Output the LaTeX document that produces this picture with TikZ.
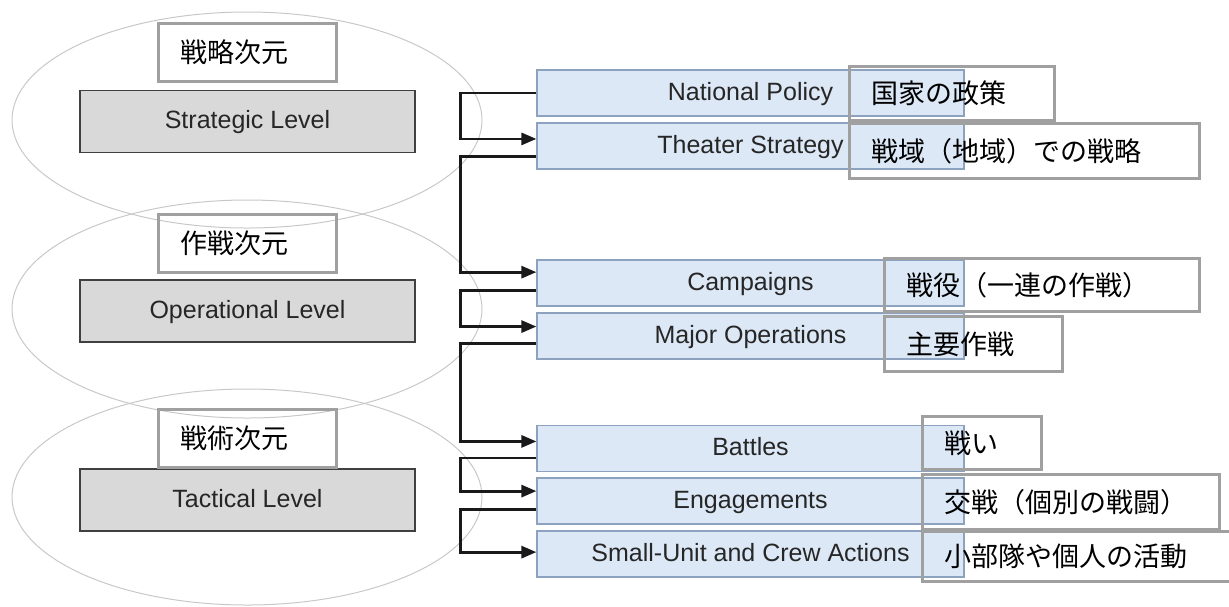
\documentclass[tikz,border=0pt]{standalone}
\usepackage{fontspec}
\setmainfont{Liberation Sans}
\newfontfamily\jpfont{Noto Sans CJK JP}
\usetikzlibrary{calc,arrows.meta}

\definecolor{zonegray}{RGB}{200,200,200}
\definecolor{lvlfill}{RGB}{217,217,217}
\definecolor{lvlline}{RGB}{64,64,64}
\definecolor{tagline}{RGB}{160,160,160}
\definecolor{rungfill}{RGB}{220,232,246}
\definecolor{rungline}{RGB}{140,162,190}
\definecolor{inktext}{RGB}{38,38,38}

\begin{document}
\begin{tikzpicture}[x=0.5pt,y=-0.5pt,
  zone/.style={draw=zonegray,line width=0.5pt},
  lvlbox/.style={draw=lvlline,fill=lvlfill,line width=0.6pt,minimum width=167.5pt,minimum height=31pt,text height=0.72em,text depth=0pt,text=inktext,font=\fontsize{12.5}{15}\selectfont},
  jtag/.style={draw=tagline,line width=1.5pt,inner xsep=11pt,inner ysep=0pt,align=left,font=\jpfont\fontsize{13.5}{16}\selectfont},
  rung/.style={draw=rungline,fill=rungfill,line width=0.6pt,minimum width=213.5pt,minimum height=23pt,text height=0.72em,text depth=0pt,text=inktext,font=\fontsize{12.5}{15}\selectfont},
  conn/.style={draw=black!90,line width=1.4pt,-{Triangle[length=7.5pt,width=6pt]}}]
  \useasboundingbox (0,0) rectangle (1229,606);

  % levels of war
  \draw[zone] (247,120) ellipse [x radius=235,y radius=108];
  \draw[zone] (247,309) ellipse [x radius=235,y radius=109];
  \draw[zone] (247,497) ellipse [x radius=235,y radius=108];

  \node[lvlbox] (strat) at (247.5,121.5) {Strategic Level};
  \node[lvlbox] (oper) at (247.5,311) {Operational Level};
  \node[lvlbox] (tact) at (247.5,500) {Tactical Level};

  \node[jtag,text width=67pt,minimum height=29pt] (stratjp) at (247,52) {戦略次元};
  \node[jtag,text width=67pt,minimum height=29pt] (operjp) at (247,243) {作戦次元};
  \node[jtag,text width=67pt,minimum height=29pt] (tactjp) at (247,438.5) {戦術次元};

  % activities
  \node[rung] (np) at (750.5,93) {National Policy};
  \node[rung] (ts) at (750.5,146) {Theater Strategy};
  \node[rung] (cp) at (750.5,283) {Campaigns};
  \node[rung] (mo) at (750.5,336) {Major Operations};
  \node[rung] (bt) at (750.5,448.5) {Battles};
  \node[rung] (en) at (750.5,501) {Engagements};
  \node[rung] (su) at (750.5,554) {Small-Unit and Crew Actions};

  \draw[conn] (np.west) -- ++(-76,0) |- ($(ts.north west)!0.35!(ts.south west)$);
  \draw[conn] ($(ts.north west)!0.72!(ts.south west)$) -- ++(-76,0) |- ($(cp.north west)!0.27!(cp.south west)$);
  \draw[conn] ($(cp.north west)!0.66!(cp.south west)$) -- ++(-76,0) |- ($(mo.north west)!0.3!(mo.south west)$);
  \draw[conn] ($(mo.north west)!0.66!(mo.south west)$) -- ++(-76,0) |- ($(bt.north west)!0.35!(bt.south west)$);
  \draw[conn] ($(bt.north west)!0.7!(bt.south west)$) -- ++(-76,0) |- ($(en.north west)!0.29!(en.south west)$);
  \draw[conn] ($(en.north west)!0.68!(en.south west)$) -- ++(-76,0) |- ($(su.north west)!0.46!(su.south west)$);

  % japanese notes
  \node[jtag,anchor=north west,text width=80.5pt,minimum height=27pt] (npjp) at (848,65) {国家の政策};
  \node[jtag,anchor=north west,text width=153pt,minimum height=27.5pt] (tsjp) at (848,122) {戦域（地域）での戦略};
  \node[jtag,anchor=north west,text width=135.5pt,minimum height=26.5pt] (cpjp) at (883,257) {戦役（一連の作戦）};
  \node[jtag,anchor=north west,text width=67pt,minimum height=27.5pt] (mojp) at (883,315) {主要作戦};
  \node[jtag,anchor=north west,text width=37.5pt,minimum height=26.5pt] (btjp) at (921,415) {戦い};
  \node[jtag,anchor=north west,text width=126.5pt,minimum height=27.5pt] (enjp) at (921,473) {交戦（個別の戦闘）};
  \node[jtag,anchor=north west,text width=138pt,minimum height=25pt] (sujp) at (921,530) {小部隊や個人の活動};
\end{tikzpicture}
\end{document}
